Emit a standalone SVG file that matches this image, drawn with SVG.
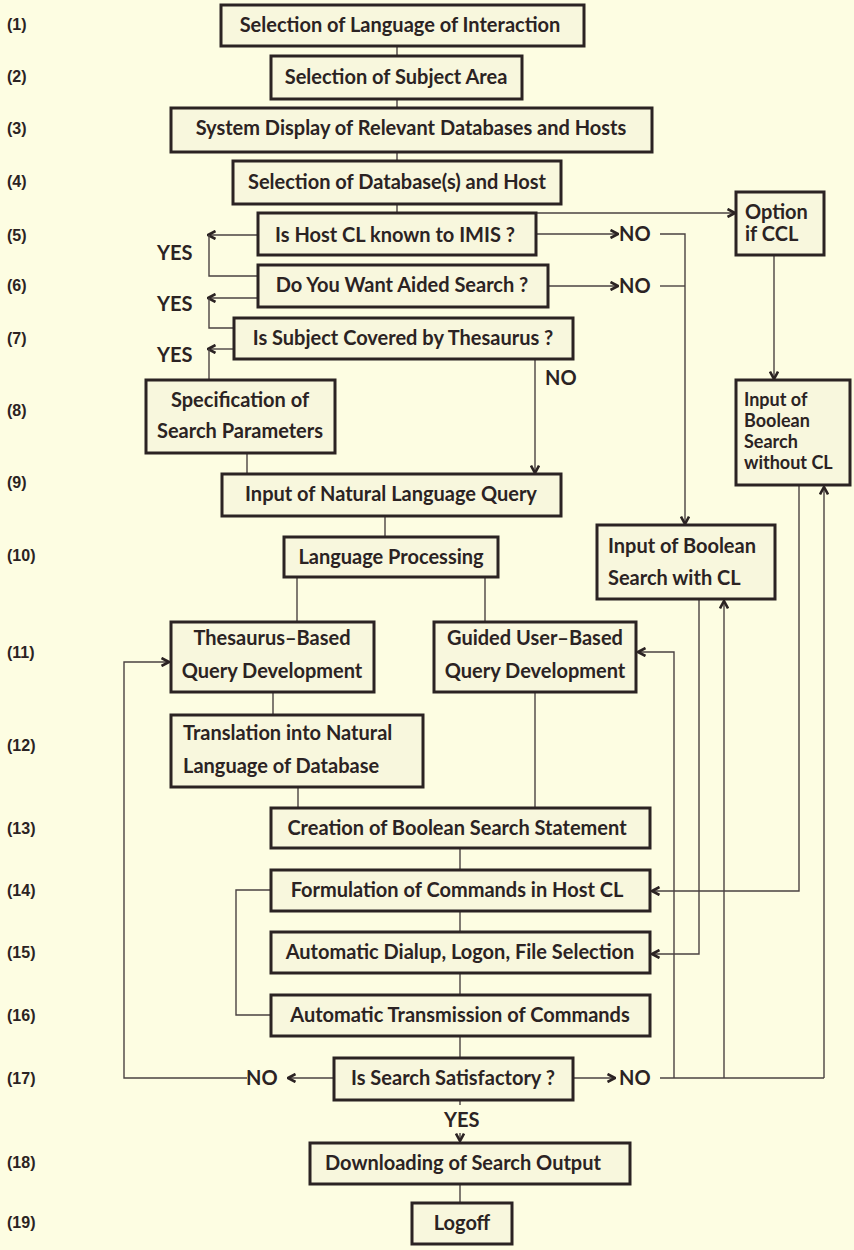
<svg xmlns="http://www.w3.org/2000/svg" width="854" height="1250" viewBox="0 0 854 1250">
<style>
.bg{fill:#fdfde2}
.box rect{fill:#f8f7dd;stroke:#2b2323;stroke-width:3}
.box text,.lbl{font-family:Lato,"Open Sans","Liberation Sans",sans-serif;font-weight:700;font-size:20px;fill:#2b2323}
#nwo text{font-size:18px}
.c{text-anchor:middle}
.row{font-family:"Liberation Sans",Arial,sans-serif;font-weight:700;font-size:16px;fill:#2b2323}
.yn{font-family:Lato,"Open Sans","Liberation Sans",sans-serif;font-weight:700;font-size:20px;fill:#2b2323}
#connectors path{fill:none;stroke:#4a4242;stroke-width:1.4}
</style>
<defs>
<marker id="arr" viewBox="0 0 10 10" refX="9" refY="5" markerWidth="10" markerHeight="10" markerUnits="userSpaceOnUse" orient="auto">
<path d="M1.5,1 L9,5 L1.5,9" fill="none" stroke="#2b2323" stroke-width="2.6"/>
</marker>
</defs>
<rect class="bg" x="0" y="0" width="854" height="1250"/>

<g id="row-labels" class="row">
<text x="7" y="30">(1)</text>
<text x="7" y="82">(2)</text>
<text x="7" y="134">(3)</text>
<text x="7" y="187">(4)</text>
<text x="7" y="241">(5)</text>
<text x="7" y="291">(6)</text>
<text x="7" y="344">(7)</text>
<text x="7" y="416">(8)</text>
<text x="7" y="488">(9)</text>
<text x="7" y="561">(10)</text>
<text x="7" y="658">(11)</text>
<text x="7" y="751">(12)</text>
<text x="7" y="834">(13)</text>
<text x="7" y="896">(14)</text>
<text x="7" y="958">(15)</text>
<text x="7" y="1021">(16)</text>
<text x="7" y="1084">(17)</text>
<text x="7" y="1168">(18)</text>
<text x="7" y="1228">(19)</text>
</g>

<g id="connectors">
<path d="M397,46 V56"/>
<path d="M397,99 V108"/>
<path d="M397,152 V161"/>
<path d="M397,204 V213"/>
<path d="M536,213 H735" marker-end="url(#arr)"/>
<path d="M774,255 V379" marker-end="url(#arr)"/>
<path d="M536,234 H618" marker-end="url(#arr)"/>
<path d="M660,234 H685 V524" marker-end="url(#arr)"/>
<path d="M548,286 H618" marker-end="url(#arr)"/>
<path d="M660,286 H685"/>
<path d="M535,359 V473" marker-end="url(#arr)"/>
<path d="M258,235 H208" marker-end="url(#arr)"/>
<path d="M209,235 V276 H258"/>
<path d="M258,298 H208" marker-end="url(#arr)"/>
<path d="M209,298 V328 H234"/>
<path d="M234,349 H208" marker-end="url(#arr)"/>
<path d="M209,349 V380"/>
<path d="M247,453 V474"/>
<path d="M385,516 V537"/>
<path d="M297,577 V622"/>
<path d="M485,577 V622"/>
<path d="M273,692 V715"/>
<path d="M298,787 V808"/>
<path d="M535,692 V808"/>
<path d="M460,848 V870"/>
<path d="M460,911 V932"/>
<path d="M460,973 V995"/>
<path d="M460,1036 V1058"/>
<path d="M271,890 H236 V1015 H271"/>
<path d="M334,1078 H288" marker-end="url(#arr)"/>
<path d="M247,1078 H124 V662 H169" marker-end="url(#arr)"/>
<path d="M573,1078 H615" marker-end="url(#arr)"/>
<path d="M660,1078 H824"/>
<path d="M674,1078 V652 H638" marker-end="url(#arr)"/>
<path d="M724,1078 V601" marker-end="url(#arr)"/>
<path d="M824,1078 V487" marker-end="url(#arr)"/>
<path d="M699,599 V954 H652" marker-end="url(#arr)"/>
<path d="M799,485 V891 H652" marker-end="url(#arr)"/>
<path d="M460,1100 V1105"/>
<path d="M460,1133 V1141" marker-end="url(#arr)"/>
<path d="M460,1183 V1202"/>
</g>

<g id="decision-labels" class="yn">
<text x="157" y="260">YES</text>
<text x="157" y="311">YES</text>
<text x="157" y="362">YES</text>
<text x="619" y="241">NO</text>
<text x="619" y="293">NO</text>
<text x="545" y="385">NO</text>
<text x="246" y="1085">NO</text>
<text x="619" y="1085">NO</text>
<text x="444" y="1127">YES</text>
</g>

<g id="n1" class="box"><rect x="221" y="5" width="363" height="41"/><text class="c" x="400" y="32">Selection of Language of Interaction</text></g>
<g id="n2" class="box"><rect x="271" y="56" width="251" height="43"/><text class="c" x="396" y="84">Selection of Subject Area</text></g>
<g id="n3" class="box"><rect x="171" y="108" width="481" height="44"/><text class="c" x="411" y="135">System Display of Relevant Databases and Hosts</text></g>
<g id="n4" class="box"><rect x="233" y="161" width="328" height="43"/><text class="c" x="397" y="189">Selection of Database(s) and Host</text></g>
<g id="n5" class="box"><rect x="258" y="213" width="278" height="42"/><text class="c" x="395" y="242">Is Host CL known to IMIS ?</text></g>
<g id="n6" class="box"><rect x="258" y="265" width="290" height="42"/><text class="c" x="402" y="292">Do You Want Aided Search ?</text></g>
<g id="n7" class="box"><rect x="234" y="318" width="339" height="41"/><text class="c" x="403" y="345">Is Subject Covered by Thesaurus ?</text></g>
<g id="n8" class="box"><rect x="146" y="380" width="189" height="73"/><text class="c" x="240" y="407">Specification of</text><text class="c" x="240" y="438">Search Parameters</text></g>
<g id="n9" class="box"><rect x="222" y="474" width="339" height="42"/><text class="c" x="391" y="501">Input of Natural Language Query</text></g>
<g id="n10" class="box"><rect x="284" y="537" width="214" height="40"/><text class="c" x="391" y="564">Language Processing</text></g>
<g id="nopt" class="box"><rect x="736" y="192" width="88" height="63"/><text x="745" y="219">Option</text><text x="745" y="241">if CCL</text></g>
<g id="nwo" class="box"><rect x="736" y="380" width="114" height="105"/><text x="744" y="406">Input of</text><text x="744" y="427">Boolean</text><text x="744" y="448">Search</text><text x="744" y="469">without CL</text></g>
<g id="nwith" class="box"><rect x="597" y="525" width="178" height="74"/><text x="608" y="553">Input of Boolean</text><text x="608" y="585">Search with CL</text></g>
<g id="n11a" class="box"><rect x="171" y="622" width="203" height="70"/><text class="c" x="272" y="645">Thesaurus–Based</text><text class="c" x="272" y="678">Query Development</text></g>
<g id="n11b" class="box"><rect x="434" y="622" width="202" height="70"/><text class="c" x="535" y="645">Guided User–Based</text><text class="c" x="535" y="678">Query Development</text></g>
<g id="n12" class="box"><rect x="171" y="715" width="252" height="72"/><text x="183" y="740">Translation into Natural</text><text x="183" y="773">Language of Database</text></g>
<g id="n13" class="box"><rect x="271" y="808" width="379" height="40"/><text class="c" x="457" y="835">Creation of Boolean Search Statement</text></g>
<g id="n14" class="box"><rect x="271" y="870" width="379" height="41"/><text class="c" x="457" y="897">Formulation of Commands in Host CL</text></g>
<g id="n15" class="box"><rect x="271" y="932" width="379" height="41"/><text class="c" x="460" y="959">Automatic Dialup, Logon, File Selection</text></g>
<g id="n16" class="box"><rect x="271" y="995" width="379" height="41"/><text class="c" x="460" y="1022">Automatic Transmission of Commands</text></g>
<g id="n17" class="box"><rect x="334" y="1058" width="239" height="42"/><text class="c" x="453" y="1085">Is Search Satisfactory ?</text></g>
<g id="n18" class="box"><rect x="310" y="1143" width="320" height="41"/><text class="c" x="463" y="1170">Downloading of Search Output</text></g>
<g id="n19" class="box"><rect x="412" y="1203" width="100" height="41"/><text class="c" x="462" y="1230">Logoff</text></g>
</svg>
